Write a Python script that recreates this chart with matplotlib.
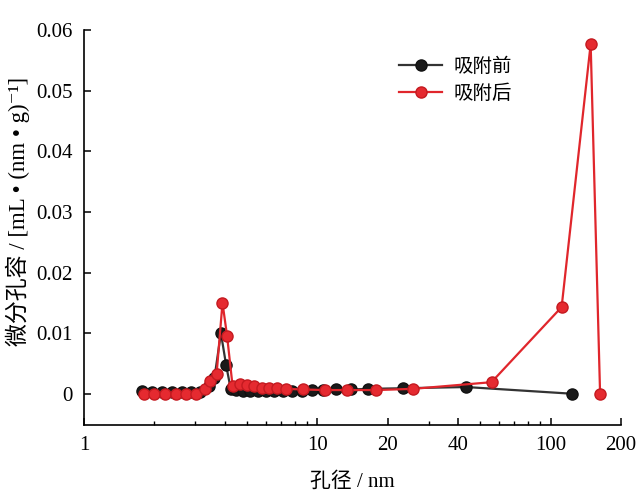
import matplotlib
matplotlib.use("Agg")
import matplotlib.pyplot as plt
from matplotlib.ticker import FixedLocator, NullFormatter

plt.rcParams['font.family'] = ['Liberation Serif', 'Noto Sans CJK SC', 'DejaVu Serif']

# pore size (nm) and differential pore volume, before adsorption
before_x = [1.77, 1.95, 2.15, 2.38, 2.62, 2.88, 3.15, 3.42, 3.62, 3.86, 4.06, 4.25,
            4.5, 4.8, 5.15, 5.55, 6.0, 6.5, 7.1, 7.8, 8.6, 9.5, 10.6, 12.0, 14.0,
            16.5, 23.3, 43.5, 123]
before_y = [0.0004, 0.0002, 0.0002, 0.0002, 0.0002, 0.0002, 0.0003, 0.0012, 0.0026,
            0.0100, 0.0048, 0.0008, 0.0006, 0.0005, 0.0005, 0.0005, 0.0005, 0.0005,
            0.0005, 0.0005, 0.0005, 0.0006, 0.0006, 0.0007, 0.0007, 0.0008, 0.0009,
            0.0011, 0.0]

# after adsorption
after_x = [1.80, 2.0, 2.23, 2.47, 2.73, 3.01, 3.30, 3.47, 3.70, 3.92, 4.10, 4.33,
           4.67, 4.97, 5.37, 5.79, 6.22, 6.71, 7.33, 8.65, 10.8, 13.4, 17.9, 25.7,
           55.8, 111.5, 148.5, 163]
after_y = [0.0, 0.0, 0.0, 0.0, 0.0, 0.0, 0.0007, 0.0021, 0.0033, 0.0150, 0.0096,
           0.0013, 0.0016, 0.0014, 0.0012, 0.0009, 0.0010, 0.0009, 0.0008, 0.0007,
           0.0006, 0.0006, 0.0006, 0.0008, 0.0019, 0.0143, 0.0577, 0.0]

xticks = [1, 10, 20, 40, 100, 200]
xlabels = ['1', '10', '20', '40', '100', '200']
xminor = [2, 3, 4, 5, 6, 7, 8, 9, 30, 50, 60, 70, 80, 90]
yticks = [0, 0.01, 0.02, 0.03, 0.04, 0.05, 0.06]
ylabels = ['0', '0.01', '0.02', '0.03', '0.04', '0.05', '0.06']

fig = plt.figure(figsize=(6.42, 4.95), dpi=100)
ax = fig.add_axes([0.131, 0.141, 0.836, 0.798])

ax.plot(before_x, before_y, '-o', color='#333333', mfc='#1a1a1a', mec='#111111',
        ms=8, lw=1.6, label='吸附前', zorder=2)
ax.plot(after_x, after_y, '-o', color='#e0262c', mfc='#e52a30', mec='#c41a20',
        ms=8, lw=1.6, label='吸附后', zorder=3)

ax.set_xscale('log')
ax.set_xlim(1, 200)
ax.set_ylim(-0.0052, 0.06)
ax.xaxis.set_major_locator(FixedLocator(xticks))
ax.set_xticklabels(xlabels)
ax.xaxis.set_minor_locator(FixedLocator(xminor))
ax.xaxis.set_minor_formatter(NullFormatter())
ax.set_yticks(yticks)
ax.set_yticklabels(ylabels)

for s in ['top', 'right']:
    ax.spines[s].set_visible(False)
for s in ['left', 'bottom']:
    ax.spines[s].set_linewidth(1.2)

ax.tick_params(axis='both', which='major', direction='in', length=5, width=1.1,
               labelsize=15, pad=8)
ax.tick_params(axis='x', which='minor', direction='in', length=3, width=1.0)

ax.set_xlabel('孔径 / nm', fontsize=15, labelpad=12)
ax.set_ylabel('微分孔容 / [mL • (nm • g)⁻¹]', fontsize=16.5)
ax.yaxis.set_label_coords(-0.10, 0.54)

ax.legend(loc='upper left', bbox_to_anchor=(0.555, 0.975), frameon=False,
          fontsize=14, handlelength=2.2, handletextpad=0.6, labelspacing=0.45)

fig.savefig('out.png', dpi=100)
